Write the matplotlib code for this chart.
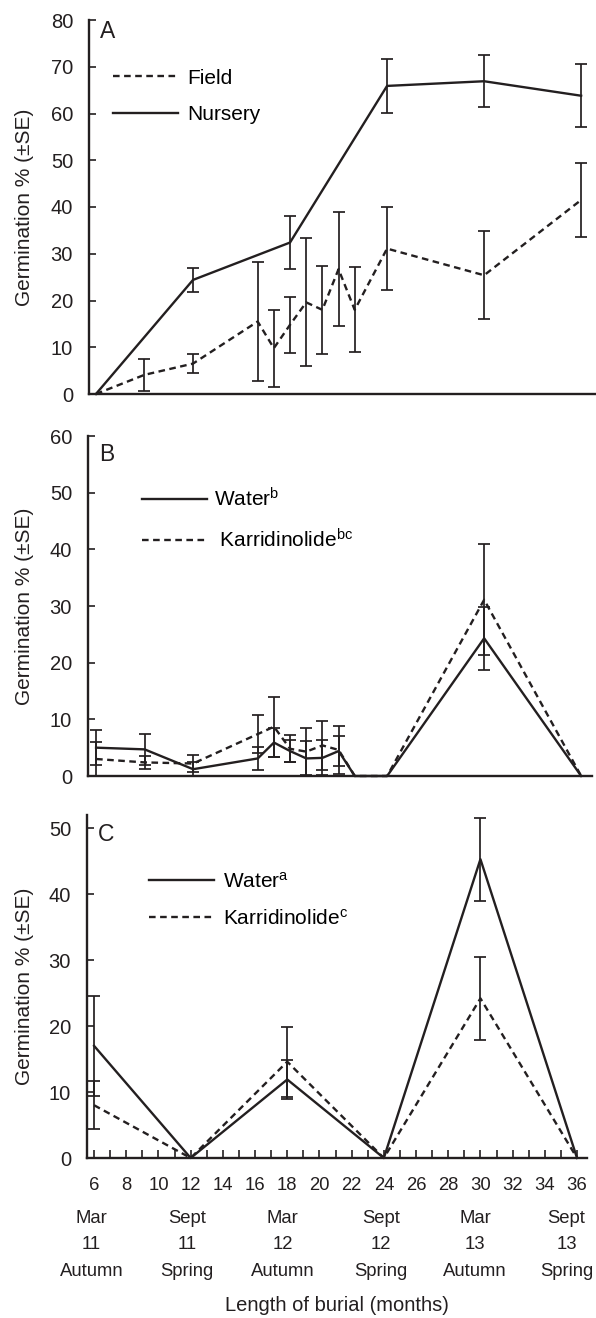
import matplotlib.pyplot as plt
import numpy as np

plt.rcParams['font.family'] = ['Liberation Sans', 'DejaVu Sans']
plt.rcParams['mathtext.default'] = 'regular'

INK = '#231f20'

# Panel A: field vs nursery burial
months_field = [6, 9, 12, 16, 17, 18, 19, 20, 21, 22, 24, 30, 36]
field = [0, 4.1, 6.5, 15.5, 9.8, 14.8, 19.6, 18.0, 26.7, 18.0, 31.1, 25.4, 41.5]
field_se = [0, 3.4, 2.0, 12.8, 8.2, 6.0, 13.7, 9.4, 12.2, 9.1, 8.8, 9.4, 8.0]
months_nursery = [6, 12, 18, 24, 30, 36]
nursery = [0, 24.4, 32.4, 65.9, 66.9, 63.8]
nursery_se = [0, 2.5, 5.6, 5.8, 5.6, 6.7]

# Panel B
months_b = [6, 9, 12, 16, 17, 18, 19, 20, 21, 22, 24, 30, 36]
water_b = [5.0, 4.7, 1.2, 3.1, 5.9, 4.4, 3.1, 3.2, 4.4, 0, 0, 24.3, 0]
water_b_se = [3.1, 2.8, 1.2, 2.0, 2.6, 2.0, 3.1, 3.1, 2.7, 0, 0, 5.6, 0]
karr_b = [3.0, 2.4, 2.2, 7.4, 8.7, 4.8, 4.3, 5.4, 4.6, 0, 0, 31.1, 0]
karr_b_se = [3.0, 1.2, 1.5, 3.3, 5.3, 2.4, 4.1, 4.3, 4.3, 0, 0, 9.8, 0]

# Panel C
months_c = [6, 12, 18, 24, 30, 36]
water_c = [17.0, 0, 11.9, 0, 45.3, 0]
water_c_se = [7.6, 0, 3.0, 0, 6.3, 0]
karr_c = [8.0, 0, 14.6, 0, 24.2, 0]
karr_c_se = [3.6, 0, 5.3, 0, 6.3, 0]

# season labels under the x axis
season_x = [6, 12, 18, 24, 30, 36]
season_month = ['Mar', 'Sept', 'Mar', 'Sept', 'Mar', 'Sept']
season_year = ['11', '11', '12', '12', '13', '13']
season_name = ['Autumn', 'Spring', 'Autumn', 'Spring', 'Autumn', 'Spring']
season_nudge = [-2, -2.5, -3.5, -2, -4, -7.5]   # points, the labels drift left a bit

W, H = 596, 1318
fig = plt.figure(figsize=(W / 100, H / 100), dpi=100)


def add_axes(left, top, right, bottom):
    ax = fig.add_axes([left / W, 1 - bottom / H, (right - left) / W, (bottom - top) / H])
    ax.ylabel_x = -(left - 34) / (right - left)
    return ax


def draw(ax, x, y, se, dashed, label):
    x = np.array(x, dtype=float)
    y = np.array(y, dtype=float)
    se = np.array(se, dtype=float)
    ls = (0, (2.8, 1.9)) if dashed else '-'
    line, = ax.plot(x, y, color=INK, lw=1.7, linestyle=ls, label=label, clip_on=False)
    m = se > 0
    ax.errorbar(x[m], y[m], yerr=se[m], fmt='none', ecolor=INK,
                elinewidth=1.25, capsize=4.5, capthick=1.25, clip_on=False)
    return line


def style(ax, ymax, yticks, letter, letter_y):
    for s in ['top', 'right']:
        ax.spines[s].set_visible(False)
    for s in ['left', 'bottom']:
        ax.spines[s].set_linewidth(1.7)
        ax.spines[s].set_color(INK)
    ax.set_ylim(0, ymax)
    ax.set_yticks(yticks)
    ax.tick_params(axis='y', direction='in', length=5, width=1.2, pad=11.5,
                   labelsize=14.5, colors=INK)
    ax.set_ylabel('Germination % (±SE)', fontsize=15, color=INK)
    ax.yaxis.set_label_coords(ax.ylabel_x, 0.5)
    ax.text(0.022, letter_y, letter, transform=ax.transAxes, fontsize=16.5,
            va='top', ha='left', color=INK)


def legend(ax, handles, anchor, spacing, textpad):
    ax.legend(handles=handles, loc='upper left', bbox_to_anchor=anchor,
              frameon=False, fontsize=15, handlelength=3.12, handletextpad=textpad,
              labelspacing=spacing, borderpad=0, borderaxespad=0)


axA = add_axes(89, 20, 596, 394)
axB = add_axes(88, 436, 592, 776)
axC = add_axes(87, 815, 587, 1158)

# A
hf = draw(axA, months_field, field, field_se, True, 'Field')
hn = draw(axA, months_nursery, nursery, nursery_se, False, 'Nursery')
style(axA, 80, np.arange(0, 81, 10), 'A', 1.0)
axA.set_xlim(5.57, 36.92)
axA.set_xticks([])
legend(axA, [hf, hn], (0.047, 0.87), 0.83, 0.43)

# B
hw = draw(axB, months_b, water_b, water_b_se, False, 'Water$^{b}$')
hk = draw(axB, months_b, karr_b, karr_b_se, True, ' Karridinolide$^{bc}$')
style(axB, 60, np.arange(0, 61, 10), 'B', 0.98)
axB.set_xlim(5.5, 36.67)
axB.set_xticks([])
legend(axB, [hw, hk], (0.107, 0.85), 0.86, 0.32)

# C
hw = draw(axC, months_c, water_c, water_c_se, False, 'Water$^{a}$')
hk = draw(axC, months_c, karr_c, karr_c_se, True, 'Karridinolide$^{c}$')
style(axC, 52, np.arange(0, 51, 10), 'C', 0.977)
axC.set_xlim(5.56, 36.62)
axC.set_xticks(np.arange(6, 37, 2))
axC.set_xticks(np.arange(7, 37, 2), minor=True)
axC.tick_params(axis='x', which='both', direction='in', length=6, width=1.2,
                colors=INK)
axC.tick_params(axis='x', which='major', pad=14, labelsize=13.3)
legend(axC, [hw, hk], (0.123, 0.836), 0.83, 0.45)

for xm, a, b, c, nudge in zip(season_x, season_month, season_year, season_name, season_nudge):
    for txt, off in [(a, -43.3), (b, -62), (c, -81.5)]:
        axC.annotate(txt, xy=(xm, 0), xycoords=('data', 'axes fraction'),
                     xytext=(nudge, off), textcoords='offset points',
                     ha='center', va='center', fontsize=13.3, color=INK)

axC.annotate('Length of burial (months)', xy=(0.5, 0), xycoords='axes fraction',
             xytext=(0, -110.5), textcoords='offset points',
             ha='center', va='baseline', fontsize=14.5, color=INK)

fig.savefig('out.png', dpi=100)
